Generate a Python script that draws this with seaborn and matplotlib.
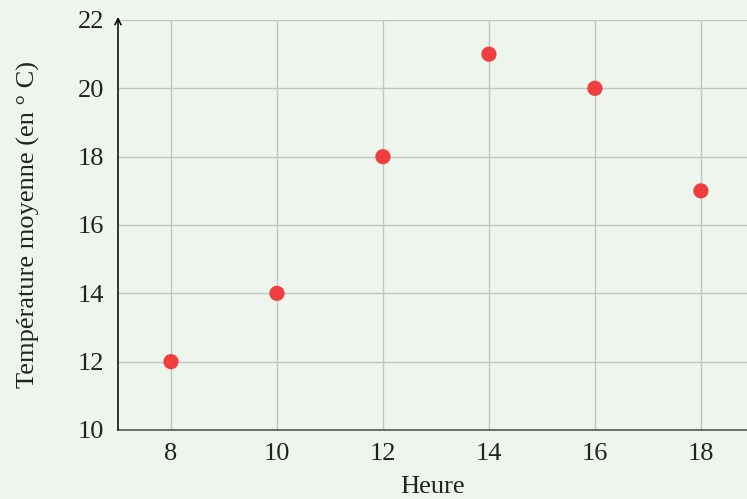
import matplotlib
matplotlib.use("Agg")
import matplotlib.pyplot as plt
import seaborn as sns
import pandas as pd

heures = [8, 10, 12, 14, 16, 18]
temperatures = [12, 14, 18, 21, 20, 17]
xticks = [8, 10, 12, 14, 16, 18]
yticks = [10, 12, 14, 16, 18, 20, 22]

bg = "#eef5ec"
sns.set_theme(style="whitegrid")
plt.rcParams["font.family"] = ["Liberation Serif", "DejaVu Serif"]

df = pd.DataFrame({"Heure": heures, "Temp": temperatures})

fig = plt.figure(figsize=(7.47, 4.99), dpi=100, facecolor=bg)
ax = fig.add_axes([118/747, 69/499, 1 - 118/747, 410/499])
ax.set_facecolor(bg)

sns.scatterplot(data=df, x="Heure", y="Temp", ax=ax, s=120, color="#ee3e3e",
                edgecolor="none", zorder=3, clip_on=False)

ax.set_xlim(7, 18.87)
ax.set_ylim(10, 22)
ax.set_xticks(xticks)
ax.set_yticks(yticks)
ax.grid(True, color="#c4c4c4", linewidth=1.0)
ax.set_axisbelow(True)
for s in ["top", "right", "left"]:
    ax.spines[s].set_visible(False)
ax.spines["bottom"].set_color("#555555")
ax.spines["bottom"].set_linewidth(1.2)
ax.tick_params(axis="x", length=4, color="#aaaaaa", direction="inout", labelsize=19, pad=7, labelcolor="#222222")
ax.tick_params(axis="y", length=0, labelsize=19, pad=10, labelcolor="#222222")

ax.annotate("", xy=(0, 1.0 + 3/410), xycoords="axes fraction", xytext=(0, 0),
            arrowprops=dict(arrowstyle="->", color="black", lw=1.1, shrinkA=0, shrinkB=0,
                            mutation_scale=11))

ax.set_xlabel("Heure", fontsize=19, color="#222222", labelpad=8)
ax.set_ylabel("Température moyenne (en ° C)", fontsize=19, color="#222222", labelpad=27)

fig.savefig("out.png", dpi=100, facecolor=bg)
